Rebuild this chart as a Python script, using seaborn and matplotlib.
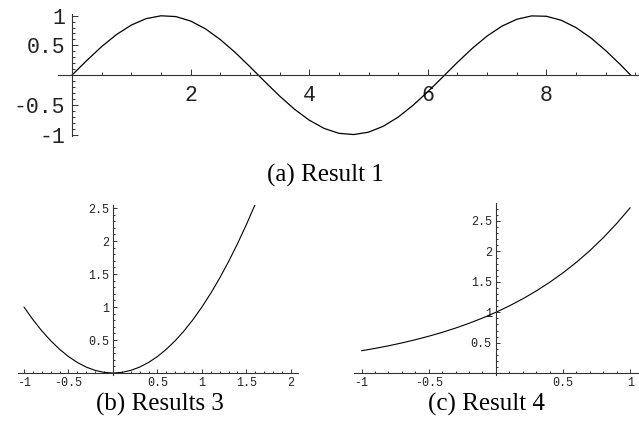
import numpy as np
import seaborn as sns
import matplotlib.pyplot as plt
from matplotlib.ticker import FixedLocator, FixedFormatter, MultipleLocator

# values
sin_x = [0, 0.25, 0.5, 0.75, 1.0, 1.25, 1.5, 1.75, 2.0, 2.25, 2.5, 2.75, 3.0,
         3.25, 3.5, 3.75, 4.0, 4.25, 4.5, 4.75, 5.0, 5.25, 5.5, 5.75, 6.0,
         6.25, 6.5, 6.75, 7.0, 7.25, 7.5, 7.75, 8.0, 8.25, 8.5, 8.75, 9.0,
         9.25, 9.42]
sin_y = [0, 0.247, 0.479, 0.682, 0.841, 0.949, 0.997, 0.984, 0.909, 0.778,
         0.598, 0.382, 0.141, -0.108, -0.351, -0.572, -0.757, -0.895, -0.978,
         -0.999, -0.959, -0.859, -0.706, -0.508, -0.279, -0.033, 0.215, 0.450,
         0.657, 0.823, 0.938, 0.995, 0.989, 0.922, 0.798, 0.625, 0.412, 0.174, 0]

sq_x = [-1.0, -0.9, -0.8, -0.7, -0.6, -0.5, -0.4, -0.3, -0.2, -0.1, 0.0,
        0.1, 0.2, 0.3, 0.4, 0.5, 0.6, 0.7, 0.8, 0.9, 1.0, 1.1, 1.2, 1.3,
        1.4, 1.5, 1.6]
sq_y = [1.0, 0.81, 0.64, 0.49, 0.36, 0.25, 0.16, 0.09, 0.04, 0.01, 0.0,
        0.01, 0.04, 0.09, 0.16, 0.25, 0.36, 0.49, 0.64, 0.81, 1.0, 1.21,
        1.44, 1.69, 1.96, 2.25, 2.56]

ex_x = [-1.0, -0.9, -0.8, -0.7, -0.6, -0.5, -0.4, -0.3, -0.2, -0.1, 0.0,
        0.1, 0.2, 0.3, 0.4, 0.5, 0.6, 0.7, 0.8, 0.9, 1.0]
ex_y = [0.368, 0.407, 0.449, 0.497, 0.549, 0.607, 0.670, 0.741, 0.819,
        0.905, 1.0, 1.105, 1.221, 1.350, 1.492, 1.649, 1.822, 2.014, 2.226,
        2.460, 2.718]

a_xticks = [2, 4, 6, 8]
a_yticks = [-1, -0.5, 0.5, 1]
b_xticks = [-1, -0.5, 0.5, 1, 1.5, 2]
b_yticks = [0.5, 1, 1.5, 2, 2.5]
c_xticks = [-1, -0.5, 0.5, 1]
c_yticks = [0.5, 1, 1.5, 2, 2.5]

captions = ['(a) Result 1', '(b) Results 3', '(c) Result 4']

sns.set_style('white')
plt.rcParams['font.family'] = ['Liberation Mono', 'DejaVu Sans']

fig = plt.figure(figsize=(6.39, 4.28), dpi=100)


def fmt(v):
    s = ('%g' % v)
    return s


def style_axes(ax, xt, yt, xminor, yminor, fs, pad_x, pad_y, big, small):
    for s in ['top', 'right']:
        ax.spines[s].set_visible(False)
    for s in ['left', 'bottom']:
        ax.spines[s].set_position(('data', 0))
        ax.spines[s].set_color('#333333')
        ax.spines[s].set_linewidth(0.8)
    ax.xaxis.set_major_locator(FixedLocator(xt))
    ax.xaxis.set_major_formatter(FixedFormatter([fmt(v) for v in xt]))
    ax.yaxis.set_major_locator(FixedLocator(yt))
    ax.yaxis.set_major_formatter(FixedFormatter([fmt(v) for v in yt]))
    ax.xaxis.set_minor_locator(MultipleLocator(xminor))
    ax.yaxis.set_minor_locator(MultipleLocator(yminor))
    ax.tick_params(which='both', direction='in', color='#333333', width=0.7,
                   bottom=True, left=True)
    ax.tick_params(which='major', length=big)
    ax.tick_params(which='minor', length=small)
    ax.tick_params(axis='x', which='major', pad=pad_x, labelsize=fs, labelcolor='#222222')
    ax.tick_params(axis='y', which='major', pad=pad_y, labelsize=fs, labelcolor='#222222')
    ax.set_xlabel('')
    ax.set_ylabel('')
    ax.patch.set_alpha(0)


# (a) sine
ax1 = fig.add_axes([0.0908, 0.682, 0.9077, 0.285])
sns.lineplot(x=sin_x, y=sin_y, ax=ax1, color='black', lw=0.9)
ax1.set_xlim(-0.236, 9.545)
ax1.set_ylim(-1.025, 1.025)
style_axes(ax1, a_xticks, a_yticks, 0.5, 0.1, 15.5, 7, 5, 4, 2)

# (b) parabola
ax2 = fig.add_axes([0.0282, 0.1238, 0.438, 0.397])
sns.lineplot(x=sq_x, y=sq_y, ax=ax2, color='black', lw=0.8)
ax2.set_xlim(-1.067, 2.079)
ax2.set_ylim(-0.03, 2.545)
style_axes(ax2, b_xticks, b_yticks, 0.1, 0.1, 8.5, 3, 3, 3, 1.5)

# (c) exponential
ax3 = fig.add_axes([0.554, 0.1238, 0.444, 0.402])
sns.lineplot(x=ex_x, y=ex_y, ax=ax3, color='black', lw=0.8)
ax3.set_xlim(-1.056, 1.056)
ax3.set_ylim(-0.03, 2.796)
style_axes(ax3, c_xticks, c_yticks, 0.1, 0.1, 8.5, 3, 3, 3, 1.5)

cap_font = dict(family=['Liberation Serif', 'DejaVu Serif'], fontsize=18,
                ha='center', va='center', color='black')
fig.text(325 / 639, 1 - 175 / 428, captions[0], **cap_font)
fig.text(160 / 639, 1 - 404 / 428, captions[1], **cap_font)
fig.text(486 / 639, 1 - 404 / 428, captions[2], **cap_font)

fig.savefig('out.png', dpi=100)
